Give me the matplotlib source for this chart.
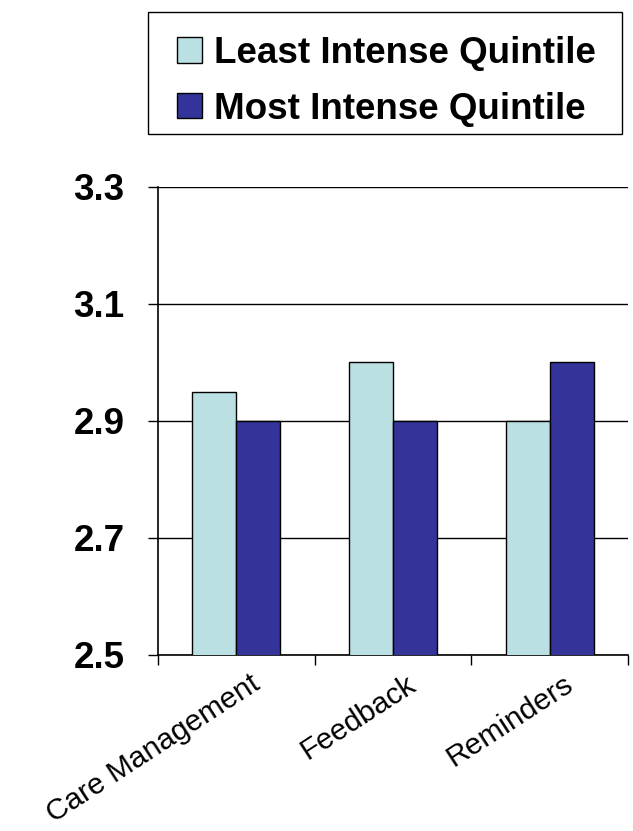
import numpy as np
import matplotlib
matplotlib.use("Agg")
import matplotlib.pyplot as plt
import matplotlib.transforms as mtransforms
from matplotlib.patches import Patch, Rectangle

categories = ["Care Management", "Feedback", "Reminders"]
least_intense = [2.95, 3.0, 2.9]
most_intense = [2.9, 2.9, 3.0]
series_names = ["Least Intense Quintile", "Most Intense Quintile"]
y_ticks = [2.5, 2.7, 2.9, 3.1, 3.3]

LIGHT = "#BBE0E3"
DARK = "#333399"
FONT = "Liberation Sans"
W, H = 633, 831

fig = plt.figure(figsize=(W / 100, H / 100), dpi=100, facecolor="white")
ax = fig.add_axes([158 / W, 1 - 655 / H, 470 / W, 468 / H])

x = np.arange(len(categories))
w = 0.28
ax.bar(x - w / 2, least_intense, w, color=LIGHT, edgecolor="black", linewidth=1.0, zorder=3)
ax.bar(x + w / 2, most_intense, w, color=DARK, edgecolor="black", linewidth=1.0, zorder=3)

ax.set_xlim(-0.5, len(categories) - 0.5)
ax.set_ylim(2.5, 3.3)
ax.set_yticks(y_ticks)
ax.set_yticklabels([f"{v:.1f}" for v in y_ticks], fontsize=26.5, fontweight="bold", family=FONT)
ax.yaxis.grid(True, color="black", linewidth=1.0, zorder=0)
ax.set_axisbelow(True)

# ticks on the category boundaries
ax.set_xticks(np.arange(len(categories) + 1) - 0.5)
ax.set_xticklabels([])
ax.tick_params(axis="x", length=7, width=1.0, direction="out")
ax.tick_params(axis="y", length=7, width=1.0, direction="out", pad=17)

# slanted category names ending just right of each centre
base = mtransforms.blended_transform_factory(ax.transData, ax.transAxes)
off = mtransforms.ScaledTranslation(13 / 100, -15 / 100, fig.dpi_scale_trans)
for xi, name in zip(x, categories):
    ax.text(xi, 0, name, transform=base + off, rotation=33, rotation_mode="anchor",
            ha="right", va="top", fontsize=21.5, family=FONT)

for side in ["top", "right"]:
    ax.spines[side].set_visible(False)
ax.spines["left"].set_linewidth(1.2)
ax.spines["bottom"].set_linewidth(1.2)

# legend entries, with the surrounding box drawn separately
handles = [Patch(facecolor=LIGHT, edgecolor="black"), Patch(facecolor=DARK, edgecolor="black")]
fig.legend(handles, series_names, loc="upper left",
           bbox_to_anchor=(177 / W, 1 - 36 / H),
           prop={"family": FONT, "weight": "bold", "size": 26.5},
           frameon=False, handlelength=0.68, handleheight=0.68, handletextpad=0.32,
           borderpad=0, labelspacing=0.56, borderaxespad=0)
fig.patches.append(Rectangle((148 / W, 1 - 134 / H), 474 / W, 122 / H,
                             transform=fig.transFigure, fill=False,
                             edgecolor="black", linewidth=1.0))

fig.savefig("out.png", dpi=100, facecolor="white")
